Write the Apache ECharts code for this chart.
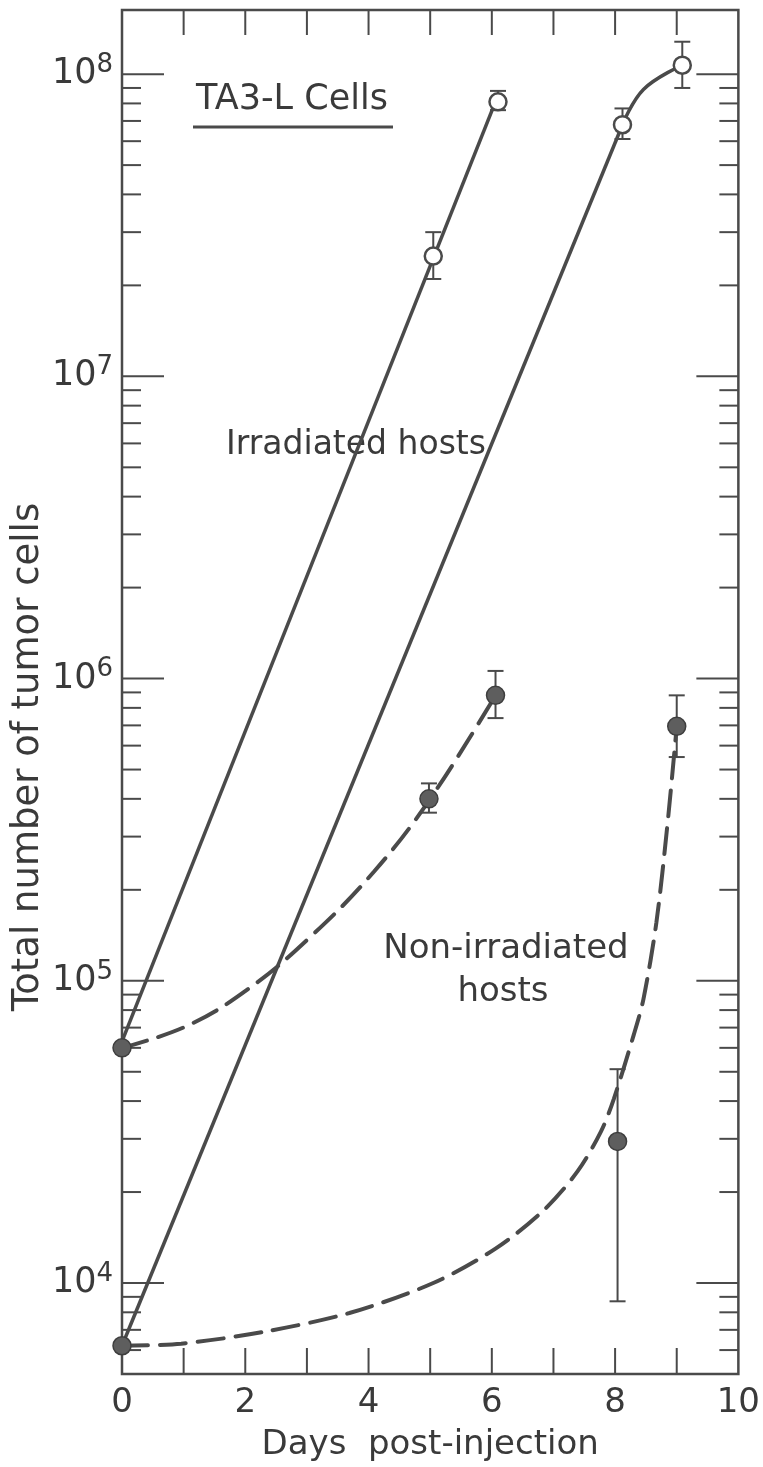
<!DOCTYPE html>
<html><head><meta charset="utf-8">
<script src="https://cdn.jsdelivr.net/npm/echarts@6/dist/echarts.min.js"></script>
<style>html,body{margin:0;padding:0;background:#fff}#c{width:763px;height:1467px}</style>
</head><body><div id="c"></div>
<script>
// ---- axis ranges and ticks ----
const xRange = [0, 10];
const yRange = [5000, 1.63e8];
const yDecades = [1e4, 1e5, 1e6, 1e7, 1e8];
const yMinorMultipliers = [2, 3, 4, 5, 6, 7, 8, 9];
const xTickDays = [1, 2, 3, 4, 5, 6, 7, 8, 9];

// ---- Irradiated hosts (open circles, solid lines) ----
const irrLeftPoints = [[5.05, 2.5e7], [6.1, 8.1e7]];
const irrLeftErr = [[5.05, 2.1e7, 3.0e7], [6.1, 7.6e7, 8.8e7]];
const irrLeftLine = [[0, 6.3e4], [6.1, 8.5e7]];

const irrRightPoints = [[8.12, 6.8e7], [9.09, 1.07e8]];
const irrRightErr = [[8.12, 6.1e7, 7.7e7], [9.09, 9.0e7, 1.28e8]];
const irrRightLine = [[0, 6.2e3], [8.12, 6.8e7]];
const irrRightCurve = [[8.12, 6.8e7], [8.46, 8.9e7], [9.09, 1.07e8]];

// ---- Non-irradiated hosts (filled circles, dashed curves) ----
const nonIrrLeftPoints = [[0, 6.0e4], [4.98, 4.0e5], [6.06, 8.8e5]];
const nonIrrLeftErr = [[4.98, 3.6e5, 4.5e5], [6.06, 7.4e5, 1.06e6]];
const nonIrrLeftCurve = [[0, 6.0e4], [1.06, 7.1e4], [2.05, 9.4e4], [3.06, 1.4e5], [4.09, 2.3e5],
  [5.0, 4.0e5], [6.06, 8.8e5]];

const nonIrrRightPoints = [[0, 6.2e3], [8.04, 2.94e4], [9.0, 6.95e5]];
const nonIrrRightErr = [[8.04, 8.7e3, 5.1e4], [9.0, 5.5e5, 8.8e5]];
const nonIrrRightCurve = [[0, 6.2e3], [0.96, 6.3e3], [2.31, 6.9e3], [3.69, 7.96e3], [5.05, 1.0e4],
  [6.06, 1.3e4], [6.84, 1.74e4], [7.39, 2.34e4], [7.77, 3.17e4], [7.98, 4.07e4], [8.30, 6.6e4],
  [8.46, 8.7e4], [8.67, 1.56e5], [8.85, 3.3e5], [9.0, 6.95e5]];

// ---- build tick tables ----
const yTickData = [];
yDecades.forEach(d => yTickData.push([xRange[0], d, 1]));
[1e3, 1e4, 1e5, 1e6, 1e7].forEach(d => yMinorMultipliers.forEach(m => {
  const v = d * m;
  if (v > yRange[0] && v < yRange[1]) yTickData.push([xRange[0], v, 0]);
}));
const xTickData = xTickDays.map(d => [d, yRange[0]]);

const INK = '#4a4a4a';
const TXT = '#3a3a3a';
const FONT = 'DejaVu Sans';

function errRender(params, api) {
  const x = api.value(0);
  const lo = api.coord([x, api.value(1)]);
  const hi = api.coord([x, api.value(2)]);
  const w = 8;
  const st = { stroke: INK, lineWidth: 2 };
  return { type: 'group', children: [
    { type: 'line', shape: { x1: lo[0], y1: lo[1], x2: hi[0], y2: hi[1] }, style: st },
    { type: 'line', shape: { x1: lo[0] - w, y1: lo[1], x2: lo[0] + w, y2: lo[1] }, style: st },
    { type: 'line', shape: { x1: hi[0] - w, y1: hi[1], x2: hi[0] + w, y2: hi[1] }, style: st }
  ]};
}

const chart = echarts.init(document.getElementById('c'));
chart.setOption({
  animation: false,
  backgroundColor: '#fff',
  grid: { left: 122, top: 10, width: 624, height: 1366, show: true, borderColor: INK, borderWidth: 2.5 },
  xAxis: {
    type: 'value', min: xRange[0], max: xRange[1], interval: 2,
    axisLine: { show: false }, axisTick: { show: false }, splitLine: { show: false },
    axisLabel: { margin: 12, fontSize: 34, fontFamily: FONT, color: TXT },
    name: 'Days  post-injection', nameLocation: 'middle', nameGap: 54,
    nameTextStyle: { fontSize: 34, fontFamily: FONT, color: TXT }
  },
  yAxis: {
    type: 'log', logBase: 10, min: yRange[0], max: yRange[1],
    axisLine: { show: false }, axisTick: { show: false }, splitLine: { show: false },
    axisLabel: {
      margin: 9, showMinLabel: false, showMaxLabel: false,
      formatter: v => '{b|10}{s|' + Math.round(Math.log10(v)) + '}',
      rich: {
        b: { fontSize: 35, lineHeight: 44, fontFamily: FONT, color: TXT },
        s: { fontSize: 26, lineHeight: 18, verticalAlign: 'top', fontFamily: FONT, color: TXT }
      }
    }
  },
  graphic: [
    { type: 'text', x: 28, y: 757, rotation: Math.PI / 2,
      style: { text: 'Total number of tumor cells', font: '37px "DejaVu Sans"', fill: TXT, textAlign: 'center', textVerticalAlign: 'middle' } },
    { type: 'text', x: 292, y: 100, style: { text: 'TA3-L Cells', font: '35px "DejaVu Sans"', fill: TXT, textAlign: 'center', textVerticalAlign: 'middle' } },
    { type: 'line', shape: { x1: 193, y1: 127, x2: 393, y2: 127 }, style: { stroke: INK, lineWidth: 3 } },
    { type: 'text', x: 356, y: 445, style: { text: 'Irradiated hosts', font: '33px "DejaVu Sans"', fill: TXT, textAlign: 'center', textVerticalAlign: 'middle' } },
    { type: 'text', x: 506, y: 949, style: { text: 'Non-irradiated', font: '34px "DejaVu Sans"', fill: TXT, textAlign: 'center', textVerticalAlign: 'middle' } },
    { type: 'text', x: 503, y: 992, style: { text: 'hosts', font: '34px "DejaVu Sans"', fill: TXT, textAlign: 'center', textVerticalAlign: 'middle' } }
  ],
  series: [
    { type: 'custom', z: 1, data: yTickData, encode: { x: 0, y: 1 }, silent: true,
      renderItem: (params, api) => {
        const v = api.value(1);
        const len = api.value(2) ? 42 : 19;
        const pL = api.coord([xRange[0], v]);
        const pR = api.coord([xRange[1], v]);
        const st = { stroke: INK, lineWidth: 2 };
        return { type: 'group', children: [
          { type: 'line', shape: { x1: pL[0], y1: pL[1], x2: pL[0] + len, y2: pL[1] }, style: st },
          { type: 'line', shape: { x1: pR[0], y1: pR[1], x2: pR[0] - len, y2: pR[1] }, style: st }
        ]};
      } },
    { type: 'custom', z: 1, data: xTickData, encode: { x: 0, y: 1 }, silent: true,
      renderItem: (params, api) => {
        const d = api.value(0);
        const pB = api.coord([d, yRange[0]]);
        const pT = api.coord([d, yRange[1]]);
        const st = { stroke: INK, lineWidth: 2 };
        return { type: 'group', children: [
          { type: 'line', shape: { x1: pB[0], y1: pB[1], x2: pB[0], y2: pB[1] - 26 }, style: st },
          { type: 'line', shape: { x1: pT[0], y1: pT[1], x2: pT[0], y2: pT[1] + 25 }, style: st }
        ]};
      } },
    { type: 'line', z: 2, data: irrLeftLine, showSymbol: false, lineStyle: { color: INK, width: 3.5 } },
    { type: 'line', z: 2, data: irrRightLine, showSymbol: false, lineStyle: { color: INK, width: 3.5 } },
    { type: 'line', z: 2, data: irrRightCurve, showSymbol: false, smooth: 0.4, lineStyle: { color: INK, width: 3.5 } },
    { type: 'line', z: 2, data: nonIrrLeftCurve, showSymbol: false, smooth: 0.4,
      lineStyle: { color: INK, width: 4, type: [26, 12], cap: 'round' } },
    { type: 'line', z: 2, data: nonIrrRightCurve, showSymbol: false, smooth: 0.3,
      lineStyle: { color: INK, width: 4, type: [26, 12], cap: 'round' } },
    { type: 'custom', z: 3, data: irrLeftErr, encode: { x: 0, y: [1, 2] }, renderItem: errRender },
    { type: 'custom', z: 3, data: irrRightErr, encode: { x: 0, y: [1, 2] }, renderItem: errRender },
    { type: 'custom', z: 3, data: nonIrrLeftErr, encode: { x: 0, y: [1, 2] }, renderItem: errRender },
    { type: 'custom', z: 3, data: nonIrrRightErr, encode: { x: 0, y: [1, 2] }, renderItem: errRender },
    { type: 'scatter', z: 5, data: irrLeftPoints, symbol: 'circle', symbolSize: 17,
      itemStyle: { color: '#fff', borderColor: INK, borderWidth: 2.5, opacity: 1 } },
    { type: 'scatter', z: 5, data: irrRightPoints, symbol: 'circle', symbolSize: 17,
      itemStyle: { color: '#fff', borderColor: INK, borderWidth: 2.5, opacity: 1 } },
    { type: 'scatter', z: 5, data: nonIrrLeftPoints, symbol: 'circle', symbolSize: 18,
      itemStyle: { color: '#5e5e5e', borderColor: '#3e3e3e', borderWidth: 1.5, opacity: 1 } },
    { type: 'scatter', z: 5, data: nonIrrRightPoints, symbol: 'circle', symbolSize: 18,
      itemStyle: { color: '#5e5e5e', borderColor: '#3e3e3e', borderWidth: 1.5, opacity: 1 } }
  ]
});
</script></body></html>
